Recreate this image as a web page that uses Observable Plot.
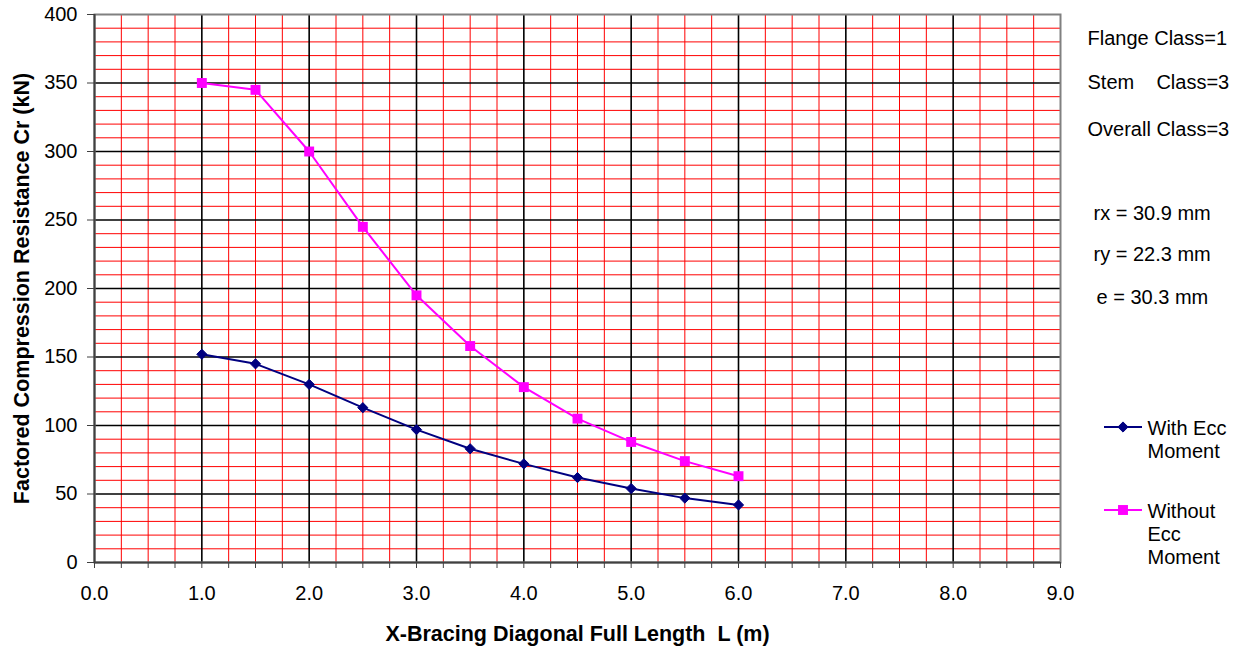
<!DOCTYPE html>
<html>
<head>
<meta charset="utf-8">
<script src="https://cdn.jsdelivr.net/npm/d3@7"></script>
<script src="https://cdn.jsdelivr.net/npm/@observablehq/plot@0.6"></script>
<style>
  html, body { margin: 0; padding: 0; background: #fff; }
  svg text { white-space: pre; }
</style>
</head>
<body>
<div id="chart"></div>
<script>
// ---- data ----
const lengths = [1.0, 1.5, 2.0, 2.5, 3.0, 3.5, 4.0, 4.5, 5.0, 5.5, 6.0];
const withEcc = [152, 145, 130, 113, 97, 83, 72, 62, 54, 47, 42];
const withoutEcc = [350, 345, 300, 245, 195, 158, 128, 105, 88, 74, 63];
const seriesNames = ["With Ecc\nMoment", "Without\nEcc\nMoment"];
const seriesColors = ["#000080", "#FF00FF"];
const seriesSymbols = ["diamond2", "square"];
const xTicks = [0, 0.25, 0.5, 0.75, 1, 1.25, 1.5, 1.75, 2, 2.25, 2.5, 2.75, 3, 3.25, 3.5, 3.75, 4, 4.25, 4.5, 4.75, 5, 5.25, 5.5, 5.75, 6, 6.25, 6.5, 6.75, 7, 7.25, 7.5, 7.75, 8, 8.25, 8.5, 8.75, 9];
const yTicks = [0, 50, 100, 150, 200, 250, 300, 350, 400];
const yMinor = [10,20,30,40,60,70,80,90,110,120,130,140,160,170,180,190,210,220,230,240,260,270,280,290,310,320,330,340,360,370,380,390];
const xLabel = "X-Bracing Diagonal Full Length  L (m)";
const yLabel = "Factored Compression Resistance Cr (kN)";
const notes = ["Flange Class=1", "Stem    Class=3", "Overall Class=3", "rx = 30.9 mm", "ry = 22.3 mm", "e = 30.3 mm"];

const xMajor = xTicks.filter(d => Number.isInteger(d) && d > 0 && d < 9);
const xMinor = xTicks.filter(d => !Number.isInteger(d));
const yMajor = yTicks.filter(d => d > 0 && d < 400);

const dataWith = lengths.map((x, i) => ({x, y: withEcc[i]}));
const dataWithout = lengths.map((x, i) => ({x, y: withoutEcc[i]}));

const FONT = "'Liberation Sans', Arial, sans-serif";

// layout offsets (pixels relative to the frame's top-right corner)
const noteDx = [27, 27, 27, 33, 33, 36];
const noteDy = [24, 68, 115, 199, 240, 283];
const legendTextDx = 87;
const legendTextDy = [404, 487];

const noteMarks = notes.map((t, i) =>
  Plot.text([t], {text: d => d, frameAnchor: "top-right", textAnchor: "start", lineAnchor: "middle",
    dx: noteDx[i], dy: noteDy[i], fontSize: 20}));
const legendMarks = seriesNames.map((t, i) =>
  Plot.text([t], {text: d => d, frameAnchor: "top-right", textAnchor: "start", lineAnchor: "top",
    dx: legendTextDx, dy: legendTextDy[i], fontSize: 20, lineHeight: 1.15}));

const chart = Plot.plot({
  width: 1244,
  height: 651,
  marginLeft: 94,
  marginRight: 184,
  marginTop: 14,
  marginBottom: 89,
  style: {fontFamily: FONT, fontSize: "20px", color: "#000", background: "#fff"},
  x: {domain: [0, 9]},
  y: {domain: [0, 400]},
  marks: [
    Plot.ruleX(xMinor, {stroke: "#ff0000", strokeWidth: 1}),
    Plot.ruleY(yMinor, {stroke: "#ff0000", strokeWidth: 1}),
    Plot.ruleX(xMajor, {stroke: "#000", strokeWidth: 1.6}),
    Plot.ruleY(yMajor, {stroke: "#000", strokeWidth: 1.6}),
    Plot.frame({stroke: "#808080", strokeWidth: 2}),
    Plot.ruleX([0], {stroke: "#404040", strokeWidth: 2}),
    Plot.ruleY([0], {stroke: "#404040", strokeWidth: 2}),
    Plot.axisY({ticks: yTicks, tickSize: 7, tickPadding: 10, label: null, stroke: "#404040", fontSize: 20}),
    Plot.axisX({ticks: xTicks, tickFormat: d => Number.isInteger(d) ? d.toFixed(1) : "", tickSize: 6, tickPadding: 17, label: null, stroke: "#404040", fontSize: 20}),
    Plot.line(dataWith, {x: "x", y: "y", stroke: seriesColors[0], strokeWidth: 2}),
    Plot.dot(dataWith, {x: "x", y: "y", symbol: seriesSymbols[0], r: 4.6, fill: seriesColors[0], stroke: seriesColors[0], strokeWidth: 1}),
    Plot.line(dataWithout, {x: "x", y: "y", stroke: seriesColors[1], strokeWidth: 2}),
    Plot.dot(dataWithout, {x: "x", y: "y", symbol: seriesSymbols[1], r: 5.6, fill: seriesColors[1]}),
    Plot.text([xLabel], {text: d => d, frameAnchor: "bottom", textAnchor: "middle", dy: 72, lineAnchor: "middle", fontWeight: "bold", fontSize: 21.5}),
    Plot.text([yLabel], {text: d => d, frameAnchor: "left", textAnchor: "middle", dx: -72, rotate: -90, lineAnchor: "middle", fontWeight: "bold", fontSize: 21.5}),
    ...noteMarks,
    ...legendMarks
  ]
});

// legend line samples with symbols
const svg = d3.select(chart);
const legendY = [427, 510];
const lg = svg.append("g").attr("class", "legend-keys");
seriesNames.forEach((name, i) => {
  lg.append("line").attr("x1", 1104).attr("x2", 1142).attr("y1", legendY[i]).attr("y2", legendY[i])
    .attr("stroke", seriesColors[i]).attr("stroke-width", 2);
  const sym = i === 0 ? d3.symbolDiamond2 : d3.symbolSquare;
  const size = i === 0 ? Math.PI * 4.6 * 4.6 : Math.PI * 5.6 * 5.6;
  lg.append("path").attr("d", d3.symbol(sym, size)()).attr("transform", `translate(1123,${legendY[i]})`)
    .attr("fill", seriesColors[i]).attr("stroke", i === 0 ? seriesColors[i] : "none");
});

document.getElementById("chart").appendChild(chart);
</script>
</body>
</html>
